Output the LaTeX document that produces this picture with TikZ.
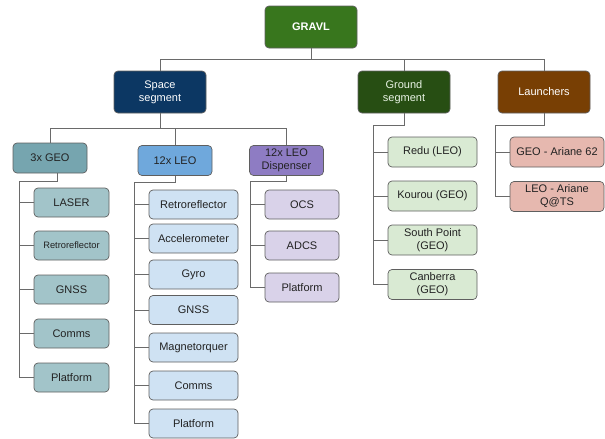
\documentclass[tikz,border=0pt]{standalone}
\usepackage{fontspec}
\setmainfont{Liberation Sans}
\definecolor{cGravl}{HTML}{38761D}
\definecolor{cSpace}{HTML}{0C3763}
\definecolor{cGround}{HTML}{274E13}
\definecolor{cLaunch}{HTML}{783F04}
\definecolor{cGeo}{HTML}{76A5AF}
\definecolor{cGeoL}{HTML}{A2C4C9}
\definecolor{cLeo}{HTML}{6FA8DC}
\definecolor{cLeoL}{HTML}{CFE2F3}
\definecolor{cDisp}{HTML}{8E7CC3}
\definecolor{cDispL}{HTML}{D9D2E9}
\definecolor{cGrL}{HTML}{D9EAD3}
\definecolor{cLaL}{HTML}{E6B8AF}
\definecolor{cLine}{HTML}{6A6A6A}
\definecolor{cBorder}{HTML}{5F5F5F}
\definecolor{cText}{HTML}{222222}
\begin{document}
\begin{tikzpicture}[x=1pt,y=-1pt,
  box/.style={rounded corners=4pt, draw=cBorder, line width=0.7pt, align=center,
    inner sep=0pt, text=cText, font=\fontsize{11}{13}\selectfont},
  topbox/.style={box, minimum width=92pt, minimum height=42pt, text=white},
  midbox/.style={box, minimum width=74pt, minimum height=30pt},
  geoitem/.style={box, fill=cGeoL, minimum width=75pt, minimum height=29pt},
  leoitem/.style={box, fill=cLeoL, minimum width=89pt, minimum height=29pt},
  dispitem/.style={box, fill=cDispL, minimum width=74pt, minimum height=29pt},
  gritem/.style={box, fill=cGrL, minimum width=89pt, minimum height=30pt},
  laitem/.style={box, fill=cLaL, minimum width=94pt, minimum height=30pt},
  conn/.style={draw=cLine, line width=0.9pt}]
\useasboundingbox (0,0) rectangle (605,439);

% top levels
\node[topbox, fill=cGravl, font=\fontsize{11}{13}\selectfont\bfseries] (gravl) at (311,27) {GRAVL};
\node[topbox, fill=cSpace] (space) at (160,92) {Space\\segment};
\node[topbox, fill=cGround, text=cGrL!60!white] (ground) at (404,92) {Ground\\segment};
\node[topbox, fill=cLaunch] (launch) at (544,92) {Launchers};

% second level
\node[midbox, fill=cGeo] (geo) at (50,158) {3x GEO};
\node[midbox, fill=cLeo] (leo) at (175,160.5) {12x LEO};
\node[midbox, fill=cDisp] (disp) at (286.5,160.5) {12x LEO\\Dispenser};

% 3x GEO items
\node[geoitem] (g1) at (71.5,202.5) {LASER};
\node[geoitem, font=\fontsize{9.3}{11}\selectfont] (g2) at (71.5,245.5) {Retroreflector};
\node[geoitem] (g3) at (71.5,289.5) {GNSS};
\node[geoitem] (g4) at (71.5,333.5) {Comms};
\node[geoitem] (g5) at (71.5,377.5) {Platform};

% 12x LEO items
\node[leoitem] (l1) at (193.5,204.5) {Retroreflector};
\node[leoitem] (l2) at (193.5,238.5) {Accelerometer};
\node[leoitem] (l3) at (193.5,274.5) {Gyro};
\node[leoitem] (l4) at (193.5,310) {GNSS};
\node[leoitem] (l5) at (193.5,347.5) {Magnetorquer};
\node[leoitem] (l6) at (193.5,385.5) {Comms};
\node[leoitem] (l7) at (193.5,423.5) {Platform};

% Dispenser items
\node[dispitem] (d1) at (302,204.5) {OCS};
\node[dispitem] (d2) at (302,245.5) {ADCS};
\node[dispitem] (d3) at (302,287.5) {Platform};

% Ground items
\node[gritem] (r1) at (432.5,152) {Redu (LEO)};
\node[gritem] (r2) at (432.5,196) {Kourou (GEO)};
\node[gritem] (r3) at (432.5,240) {South Point\\(GEO)};
\node[gritem] (r4) at (432.5,284.5) {Canberra\\(GEO)};

% Launcher items
\node[laitem] (a1) at (557,152) {GEO - Ariane 62};
\node[laitem] (a2) at (557,196.5) {LEO - Ariane\\Q@TS};

% bus coordinates
\coordinate (busTop) at (0,59);
\coordinate (busSp) at (0,128);
\coordinate (busGeo) at (19,181);
\coordinate (busLeo) at (134,182);
\coordinate (busDisp) at (250,181);
\coordinate (busGr) at (373,125);
\coordinate (busLa) at (495,125);

% connectors: top
\draw[conn] (gravl.south) -- (gravl.south |- busTop);
\draw[conn] (space.north) |- (launch.north |- busTop) -- (launch.north);
\draw[conn] (ground.north) -- (ground.north |- busTop);

% connectors: space segment
\draw[conn] (space.south) -- (space.south |- busSp);
\draw[conn] (geo.north) |- (disp.north |- busSp) -- (disp.north);
\draw[conn] (leo.north) -- (leo.north |- busSp);

% 3x GEO
\draw[conn] ([xshift=7pt]geo.south) |- (busGeo) |- (g5.west);
\foreach \n in {g1,g2,g3,g4} \draw[conn] (busGeo |- \n.west) -- (\n.west);

% 12x LEO
\draw[conn] (leo.south) |- (busLeo) |- (l7.west);
\foreach \n in {l1,l2,l3,l4,l5,l6} \draw[conn] (busLeo |- \n.west) -- (\n.west);

% Dispenser
\draw[conn] (disp.south) |- (busDisp) |- (d3.west);
\foreach \n in {d1,d2} \draw[conn] (busDisp |- \n.west) -- (\n.west);

% Ground
\draw[conn] (ground.south) |- (busGr) |- (r4.west);
\foreach \n in {r1,r2,r3} \draw[conn] (busGr |- \n.west) -- (\n.west);

% Launchers
\draw[conn] (launch.south) |- (busLa) |- (a2.west);
\draw[conn] (busLa |- a1.west) -- (a1.west);
\end{tikzpicture}
\end{document}
